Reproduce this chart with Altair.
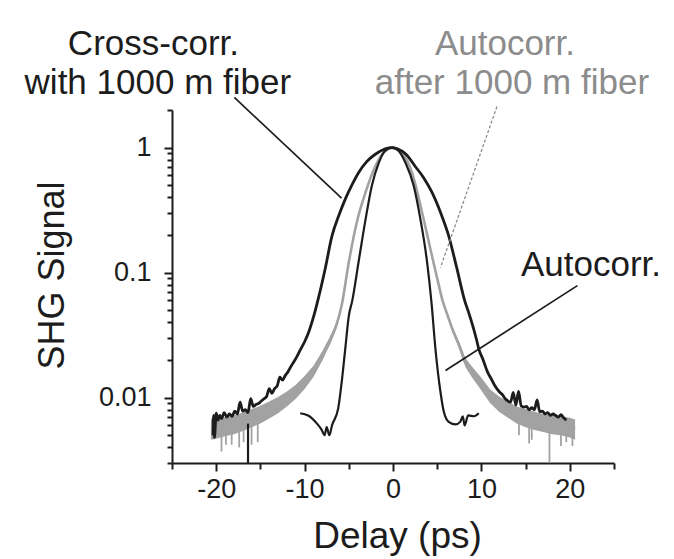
import altair as alt
import pandas as pd

# ---------------- data ----------------
# Cross-correlation with 1000 m fiber (black, broad)
cross_x = [-20.35, -20.3, -20.2, -20.0, -19.8, -19.6, -19.4, -19.1, -18.8, -18.5, -18.2, -17.9,
           -17.6, -17.3, -17.0, -16.7, -16.4, -16.1, -15.8, -15.5, -15.2, -14.9, -14.6, -14.3,
           -14.0, -13.7, -13.4, -13.1, -12.8, -12.5, -12.2, -11.9, -11.5, -11.0, -10.5, -10.0,
           -9.5, -9.0, -8.5, -7.7, -6.9, -6.1, -5.4, -4.6, -3.9, -3.0, -2.0, -1.0, -0.3, 0.5,
           1.5, 2.5, 3.5, 4.4, 5.4, 6.3, 7.2, 8.1, 8.6, 9.0, 9.4, 9.7, 10.2, 10.7, 11.1, 11.6,
           12.0, 12.4, 12.7, 13.0, 13.3, 13.6, 13.9, 14.2, 14.5, 14.8, 15.1, 15.4, 15.7, 16.0,
           16.3, 16.6, 16.9, 17.2, 17.5, 17.8, 18.1, 18.4, 18.7, 19.0, 19.3, 19.6]
cross_y = [0.0050, 0.0072, 0.0048, 0.0075, 0.0066, 0.0072, 0.0068, 0.0076, 0.0070, 0.0074, 0.0071, 0.0078,
           0.0074, 0.0092, 0.0078, 0.0080, 0.0076, 0.0098, 0.0085, 0.0088, 0.0090, 0.0094, 0.0098, 0.0102,
           0.0118, 0.0108, 0.0118, 0.0124, 0.0146, 0.0138, 0.0150, 0.0160, 0.0180, 0.0205, 0.0240, 0.0280,
           0.034, 0.044, 0.060, 0.105, 0.197, 0.29, 0.387, 0.51, 0.63, 0.77, 0.885, 0.97, 1.0, 0.98,
           0.88, 0.71, 0.57, 0.44, 0.30, 0.197, 0.11, 0.060, 0.047, 0.038, 0.030, 0.0246, 0.020, 0.016, 0.0142, 0.0122,
           0.0112, 0.0105, 0.0098, 0.0094, 0.0092, 0.0110, 0.0087, 0.0112, 0.0086, 0.0084, 0.0085, 0.0080, 0.0083, 0.0080,
           0.0096, 0.0077, 0.0078, 0.0074, 0.0076, 0.0072, 0.0074, 0.0072, 0.0070, 0.0073, 0.0069, 0.0066]

# Autocorrelation (black, narrow)
auto_x = [-10.5, -9.6, -8.6, -8.05, -7.75, -7.5, -7.2, -6.9, -6.2, -5.8, -5.4, -5.0, -4.6, -3.9,
          -3.1, -2.4, -1.6, -0.9, -0.1, 0.65, 1.4, 2.35, 3.1, 3.86, 4.35, 4.8, 5.37, 5.75, 6.3,
          7.07, 7.6, 7.9, 8.1, 8.5, 9.15, 9.7]
auto_y = [0.0075, 0.0072, 0.0062, 0.0055, 0.0050, 0.0058, 0.0050, 0.0060, 0.0082, 0.0134, 0.0246, 0.045, 0.060, 0.121,
          0.268, 0.494, 0.76, 0.94, 1.0, 0.94, 0.76, 0.494, 0.268, 0.121, 0.058, 0.0246, 0.0111, 0.0077, 0.0064,
          0.0061, 0.0064, 0.0071, 0.0060, 0.0072, 0.0071, 0.0075]

# Autocorrelation after 1000 m fiber (gray, noisy band)
fib_x = [-20.6, -20.0, -19.0, -18.0, -17.0, -16.0, -15.0, -14.0, -13.0, -12.0, -11.0, -10.0, -9.0,
         -8.0, -7.0, -6.4, -5.8, -5.0, -4.1, -3.1, -2.0, -0.9, -0.1, 1.0, 2.15, 3.3, 4.4, 5.0, 5.6,
         6.2, 6.7, 7.5, 8.2, 9.0, 10.0, 11.0, 12.0, 13.0, 14.0, 15.0, 16.0, 17.0, 18.0, 19.0, 20.0, 20.6]
fib_y = [0.0058, 0.0057, 0.0059, 0.0061, 0.0065, 0.0069, 0.0074, 0.0080, 0.0087, 0.0098, 0.0112, 0.0132, 0.0162,
         0.0215, 0.030, 0.038, 0.055, 0.121, 0.252, 0.44, 0.71, 0.94, 1.0, 0.91, 0.63, 0.30, 0.137, 0.09, 0.06,
         0.045, 0.0356, 0.026, 0.019, 0.0158, 0.0128, 0.0102, 0.0089, 0.0080, 0.0073, 0.0069, 0.0065, 0.0063,
         0.0061, 0.0060, 0.0058, 0.0056]
fib_lo = [0.0046, 0.0047, 0.0049, 0.0051, 0.0054, 0.0058, 0.0062, 0.0068, 0.0075, 0.0085, 0.0098, 0.0117, 0.0146,
          0.0197, 0.0278, 0.0358, 0.053, 0.121, 0.252, 0.44, 0.71, 0.94, 1.0, 0.91, 0.63, 0.30, 0.137, 0.09, 0.06,
          0.044, 0.034, 0.0244, 0.0175, 0.0143, 0.0114, 0.0090, 0.0077, 0.0069, 0.0062, 0.0058, 0.0055, 0.0053,
          0.0051, 0.0050, 0.0048, 0.0046]
fib_hi = [0.0068, 0.0068, 0.0070, 0.0072, 0.0076, 0.0081, 0.0086, 0.0093, 0.0101, 0.0112, 0.0127, 0.0149, 0.0180,
          0.0235, 0.0322, 0.0402, 0.057, 0.121, 0.252, 0.44, 0.71, 0.94, 1.0, 0.91, 0.63, 0.30, 0.137, 0.09, 0.06,
          0.046, 0.0374, 0.0278, 0.0207, 0.0175, 0.0144, 0.0116, 0.0102, 0.0093, 0.0085, 0.0081, 0.0077, 0.0074,
          0.0072, 0.0071, 0.0069, 0.0067]

# downward noise spikes
fib_spike_x = [-19.4, -18.9, -18.25, -17.4, -16.9, -16.0, -15.3, 14.25, 15.4, 15.7, 17.7, 19.0, 19.6, 20.3]
fib_spike_top = [0.0052, 0.0052, 0.0054, 0.0056, 0.0058, 0.0060, 0.0063, 0.0064, 0.0061, 0.0060, 0.0055, 0.0052, 0.0052, 0.0050]
fib_spike_bot = [0.0037, 0.0042, 0.0042, 0.0040, 0.0044, 0.0042, 0.0044, 0.0050, 0.0043, 0.0046, 0.0030, 0.0041, 0.0044, 0.0041]
cross_spike_x = [-16.4]
cross_spike_top = [0.0062]
cross_spike_bot = [0.0030]

# annotation leader lines (data coordinates)
lead_x1 = [-17.95, 20.86]
lead_y1 = [2.52, 0.0787]
lead_x2 = [-5.82, 5.94]
lead_y2 = [0.394, 0.0165]
gray_lead_x1 = [11.76]
gray_lead_y1 = [2.13]
gray_lead_x2 = [5.37]
gray_lead_y2 = [0.110]

# annotation texts
black_labels = ["Cross-corr.", "with 1000 m fiber", "Autocorr."]
black_label_x = [-27.1, -26.6, 22.4]
black_label_y = [5.5, 2.69, 0.0941]
gray_labels = ["Autocorr.", "after 1000 m fiber"]
gray_label_x = [12.66, 13.45]
gray_label_y = [5.5, 2.69]

x_major = [-20, -10, 0, 10, 20]
x_minor = [-25, -15, -5, 5, 15, 25]
y_major = [0.01, 0.1, 1]
y_minor = [0.003, 0.004, 0.005, 0.006, 0.007, 0.008, 0.009,
           0.02, 0.03, 0.04, 0.05, 0.06, 0.07, 0.08, 0.09,
           0.2, 0.3, 0.4, 0.5, 0.6, 0.7, 0.8, 0.9, 2]

# ---------------- chart ----------------
FONT = "Liberation Sans"
BLACK = "#1c1c1c"
GRAY = "#a2a2a2"
TEXTGRAY = "#8c8c8c"

xs = alt.Scale(domain=[-25, 25], nice=False, zero=False)
ys = alt.Scale(type="log", domain=[0.003, 2], nice=False)

x_noaxis = lambda f: alt.X(f, type="quantitative", scale=xs, axis=None)
y_noaxis = lambda f: alt.Y(f, type="quantitative", scale=ys, axis=None)

cross_df = pd.DataFrame({"x": cross_x, "y": cross_y})
auto_df = pd.DataFrame({"x": auto_x, "y": auto_y})
fib_df = pd.DataFrame({"x": fib_x, "y": fib_y, "lo": fib_lo, "hi": fib_hi})
fspk_df = pd.DataFrame({"x": fib_spike_x, "t": fib_spike_top, "b": fib_spike_bot})
cspk_df = pd.DataFrame({"x": cross_spike_x, "t": cross_spike_top, "b": cross_spike_bot})
lead_df = pd.DataFrame({"x1": lead_x1, "y1": lead_y1, "x2": lead_x2, "y2": lead_y2})
glead_df = pd.DataFrame({"x1": gray_lead_x1, "y1": gray_lead_y1, "x2": gray_lead_x2, "y2": gray_lead_y2})
btxt_df = pd.DataFrame({"x": black_label_x, "y": black_label_y, "t": black_labels})
gtxt_df = pd.DataFrame({"x": gray_label_x, "y": gray_label_y, "t": gray_labels})

# band of the gray curve carries the main axes
band = alt.Chart(fib_df).mark_area(color=GRAY, opacity=1).encode(
    x=alt.X("x:Q", scale=xs, axis=alt.Axis(
        values=x_major, labelExpr="'' + datum.value", tickSize=8, labelPadding=5,
        title="Delay (ps)", titleX=225, titleY=84, titleBaseline="alphabetic", titleAlign="center",
        titleFontSize=37, grid=False, orient="bottom")),
    y=alt.Y("lo:Q", scale=ys, axis=alt.Axis(
        values=y_major, labelExpr="'' + datum.value", tickSize=8, labelPadding=13,
        title="SHG Signal", titleX=-109, titleY=165, titleAngle=270, titleBaseline="alphabetic",
        titleAlign="center", titleFontSize=36, grid=False, orient="left")),
    y2="hi:Q",
)

minor = alt.Chart(fib_df).mark_point(opacity=0).encode(
    x=alt.X("x:Q", scale=xs, axis=alt.Axis(values=x_minor, labels=False, tickSize=6, domain=False,
                                           title="", grid=False, orient="bottom")),
    y=alt.Y("y:Q", scale=ys, axis=alt.Axis(values=y_minor, labels=False, tickSize=5, domain=False,
                                           title="", grid=False, orient="left")),
)

fib_line = alt.Chart(fib_df).mark_line(color=GRAY, strokeWidth=2.6, interpolate="monotone").encode(
    x=x_noaxis("x"), y=y_noaxis("y"))
fib_spikes = alt.Chart(fspk_df).mark_rule(color=GRAY, strokeWidth=1.8).encode(
    x=x_noaxis("x"), y=y_noaxis("t"), y2="b:Q")
cross_line = alt.Chart(cross_df).mark_line(color=BLACK, strokeWidth=2.8, interpolate="monotone").encode(
    x=x_noaxis("x"), y=y_noaxis("y"))
cross_spikes = alt.Chart(cspk_df).mark_rule(color=BLACK, strokeWidth=2.2).encode(
    x=x_noaxis("x"), y=y_noaxis("t"), y2="b:Q")
auto_line = alt.Chart(auto_df).mark_line(color=BLACK, strokeWidth=2.2, interpolate="monotone").encode(
    x=x_noaxis("x"), y=y_noaxis("y"))

leads = alt.Chart(lead_df).mark_rule(color=BLACK, strokeWidth=1.7).encode(
    x=x_noaxis("x1"), y=y_noaxis("y1"), x2="x2:Q", y2="y2:Q")
gleads = alt.Chart(glead_df).mark_rule(color=TEXTGRAY, strokeWidth=1.3, strokeDash=[3, 2]).encode(
    x=x_noaxis("x1"), y=y_noaxis("y1"), x2="x2:Q", y2="y2:Q")

btxt = alt.Chart(btxt_df).mark_text(font=FONT, fontSize=35, color=BLACK, align="center",
                                    baseline="alphabetic").encode(
    x=x_noaxis("x"), y=y_noaxis("y"), text="t:N")
gtxt = alt.Chart(gtxt_df).mark_text(font=FONT, fontSize=35, color=TEXTGRAY, align="center",
                                    baseline="alphabetic").encode(
    x=x_noaxis("x"), y=y_noaxis("y"), text="t:N")

chart = alt.layer(
    band, minor, fib_line, fib_spikes, cross_line, cross_spikes, auto_line,
    leads, gleads, btxt, gtxt
).resolve_axis(x="independent", y="independent").properties(
    width=442, height=353,
    autosize=alt.AutoSizeParams(type="none"),
    padding={"left": 172, "top": 110, "right": 60, "bottom": 96},
    background="white",
).configure_view(stroke=None).configure_axis(
    labelFont=FONT, titleFont=FONT, labelFontSize=27, labelColor=BLACK, titleColor=BLACK,
    titleFontWeight="normal", domainColor=BLACK, domainWidth=2, tickColor=BLACK, tickWidth=2,
)

chart.save("out.html", embed_options={"renderer": "svg", "actions": False})
